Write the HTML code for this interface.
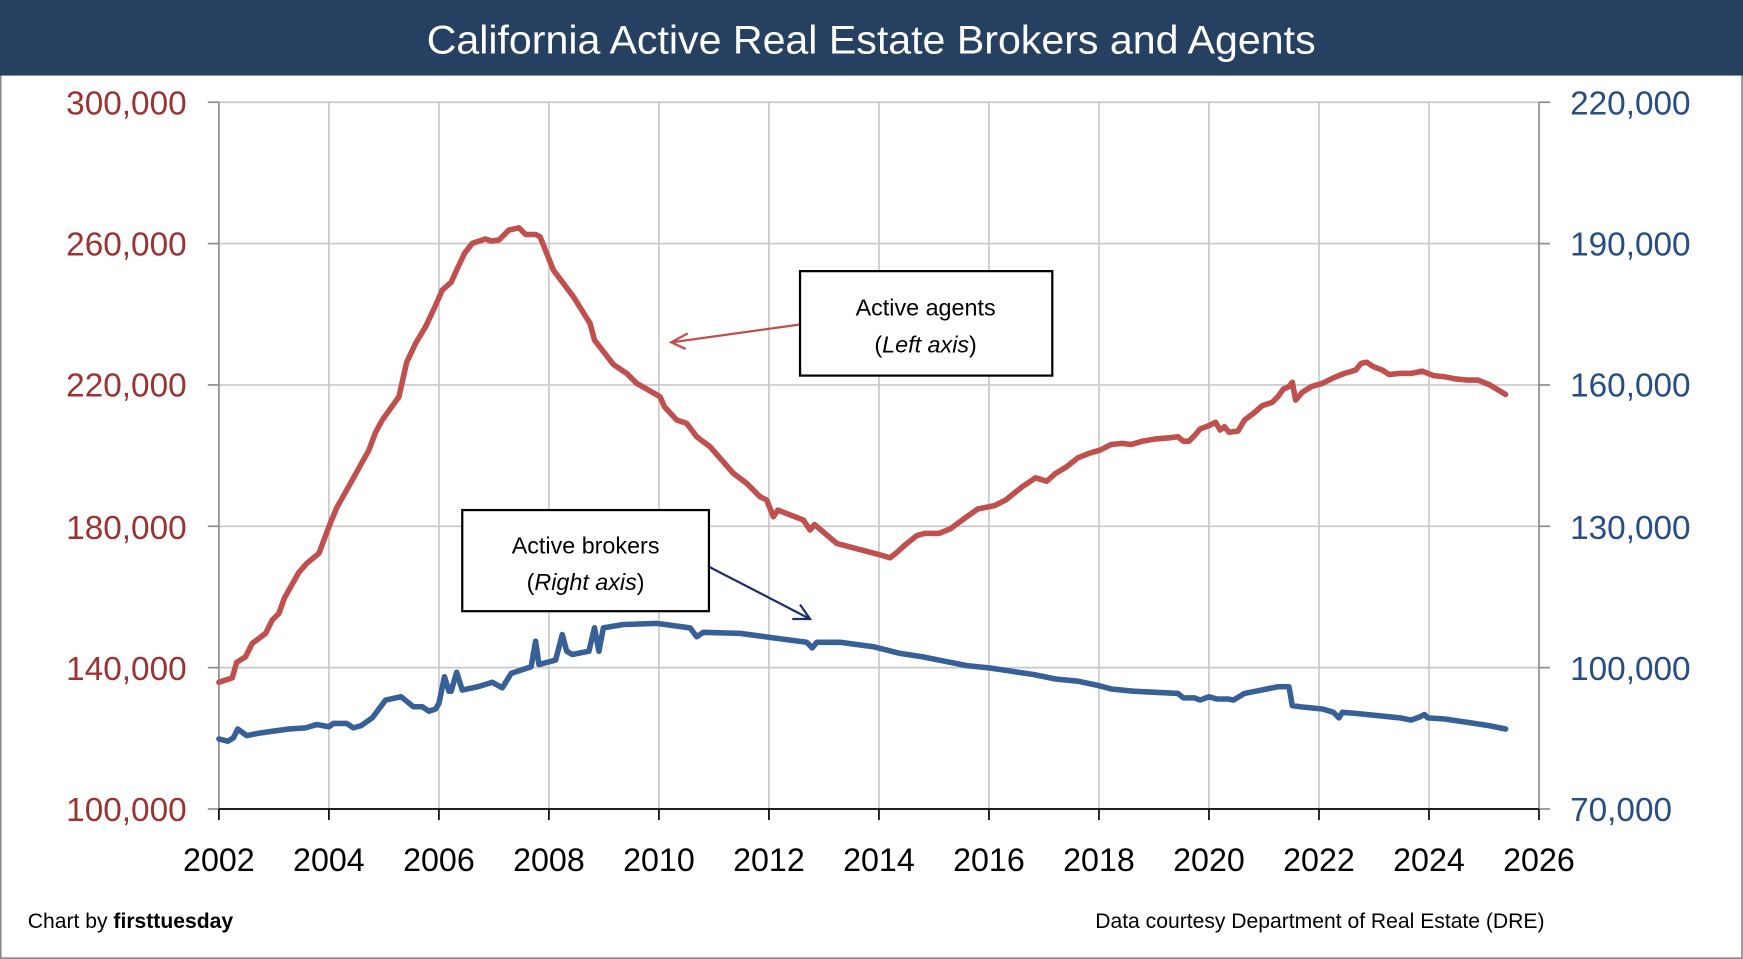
<!DOCTYPE html>
<html><head><meta charset="utf-8"><style>
html,body{margin:0;padding:0;background:#fff;}
svg{display:block;}
text{font-family:"Liberation Sans",sans-serif;}
</style></head><body>
<svg width="1743" height="959" viewBox="0 0 1568.6 863" preserveAspectRatio="none" xmlns="http://www.w3.org/2000/svg">
<rect x="0" y="0" width="1568.6" height="863" fill="#fff"/>
<rect x="0.7" y="0.7" width="1567" height="861.5" fill="none" stroke="#8a8a8a" stroke-width="1.5"/>
<rect x="0" y="0" width="1568.6" height="68" fill="#264062"/>
<text x="784" y="48" font-size="36" fill="#fff" text-anchor="middle" textLength="800" lengthAdjust="spacingAndGlyphs">California Active Real Estate Brokers and Agents</text>
<g stroke="#c8c8c8" stroke-width="1.5">
<line x1="197" y1="92" x2="1385" y2="92"/><line x1="197" y1="219.2" x2="1385" y2="219.2"/><line x1="197" y1="346.4" x2="1385" y2="346.4"/><line x1="197" y1="473.6" x2="1385" y2="473.6"/><line x1="197" y1="600.8" x2="1385" y2="600.8"/>
<line x1="296" y1="92" x2="296" y2="728"/><line x1="395" y1="92" x2="395" y2="728"/><line x1="494" y1="92" x2="494" y2="728"/><line x1="593" y1="92" x2="593" y2="728"/><line x1="692" y1="92" x2="692" y2="728"/><line x1="791" y1="92" x2="791" y2="728"/><line x1="890" y1="92" x2="890" y2="728"/><line x1="989" y1="92" x2="989" y2="728"/><line x1="1088" y1="92" x2="1088" y2="728"/><line x1="1187" y1="92" x2="1187" y2="728"/><line x1="1286" y1="92" x2="1286" y2="728"/>
</g>
<g stroke="#8c8c8c" stroke-width="1.5">
<line x1="197" y1="92" x2="197" y2="728"/><line x1="1385" y1="92" x2="1385" y2="728"/>
<line x1="187" y1="92" x2="197" y2="92"/><line x1="187" y1="219.2" x2="197" y2="219.2"/><line x1="187" y1="346.4" x2="197" y2="346.4"/><line x1="187" y1="473.6" x2="197" y2="473.6"/><line x1="187" y1="600.8" x2="197" y2="600.8"/><line x1="187" y1="728" x2="197" y2="728"/>
<line x1="1385" y1="92" x2="1395" y2="92"/><line x1="1385" y1="219.2" x2="1395" y2="219.2"/><line x1="1385" y1="346.4" x2="1395" y2="346.4"/><line x1="1385" y1="473.6" x2="1395" y2="473.6"/><line x1="1385" y1="600.8" x2="1395" y2="600.8"/><line x1="1385" y1="728" x2="1395" y2="728"/>
</g>
<g stroke="#000" stroke-width="1.5">
<line x1="197" y1="728" x2="1385" y2="728"/>
<line x1="197" y1="728" x2="197" y2="738"/><line x1="296" y1="728" x2="296" y2="738"/><line x1="395" y1="728" x2="395" y2="738"/><line x1="494" y1="728" x2="494" y2="738"/><line x1="593" y1="728" x2="593" y2="738"/><line x1="692" y1="728" x2="692" y2="738"/><line x1="791" y1="728" x2="791" y2="738"/><line x1="890" y1="728" x2="890" y2="738"/><line x1="989" y1="728" x2="989" y2="738"/><line x1="1088" y1="728" x2="1088" y2="738"/><line x1="1187" y1="728" x2="1187" y2="738"/><line x1="1286" y1="728" x2="1286" y2="738"/><line x1="1385" y1="728" x2="1385" y2="738"/>
</g>
<g font-size="30" fill="#9b3333" text-anchor="end">
<text x="168" y="103">300,000</text><text x="168" y="230">260,000</text><text x="168" y="357">220,000</text><text x="168" y="485">180,000</text><text x="168" y="612">140,000</text><text x="168" y="739">100,000</text>
</g>
<g font-size="30" fill="#264e85">
<text x="1413" y="103">220,000</text><text x="1413" y="230">190,000</text><text x="1413" y="357">160,000</text><text x="1413" y="485">130,000</text><text x="1413" y="612">100,000</text><text x="1413" y="739">70,000</text>
</g>
<g font-size="29" fill="#000" text-anchor="middle">
<text x="197" y="784">2002</text><text x="296" y="784">2004</text><text x="395" y="784">2006</text><text x="494" y="784">2008</text><text x="593" y="784">2010</text><text x="692" y="784">2012</text><text x="791" y="784">2014</text><text x="890" y="784">2016</text><text x="989" y="784">2018</text><text x="1088" y="784">2020</text><text x="1187" y="784">2022</text><text x="1286" y="784">2024</text><text x="1385" y="784">2026</text>
</g>
<text x="25" y="835" font-size="19" fill="#000">Chart by <tspan font-weight="bold">firsttuesday</tspan></text>
<text x="1390" y="835" font-size="19" fill="#000" text-anchor="end">Data courtesy Department of Real Estate (DRE)</text>

<polyline fill="none" stroke="#c0504d" stroke-width="5" stroke-linejoin="round" stroke-linecap="round" points="197,614 209,610 213,596 221,591 227,579 239,570 245,558 251,552 256,538 269,515 276,507 287,498 296,474 303,457 317,432 332,405 338,389 344,378 359,357 366,326 374,309 383,294 391,277 398,261 406,254 411,243 418,228 425,219 437,215 442,217 449,216 458,207 467,205 473,211 482,211 486,213 498,243 516,267 531,291 535,306 552,328 564,336 573,345 594,357 598,366 609,378 618,381 627,393 639,402 660,426 672,435 678,441 684,447 690,450 696,465 700,459 723,468 729,477 733,472 753,489 791,499 801,502 806,498 815,490 825,482 832,480 845,480 855,476 870,465 880,458 895,455 905,450 920,438 932,430 942,433 950,426 960,420 970,412 980,408 990,405 1000,400 1010,399 1018,400 1028,397 1040,395 1052,394 1060,393 1065,397 1070,397 1075,392 1080,386 1088,383 1094,380 1098,387 1102,384 1106,389 1114,388 1120,378 1128,372 1136,365 1145,362 1150,357 1155,350 1160,348 1163,344 1166,360 1172,353 1180,348 1190,345 1200,340 1210,336 1220,333 1225,327 1230,326 1236,330 1244,333 1250,337 1260,336 1270,336 1280,334 1290,338 1300,339 1310,341 1320,342 1330,342 1340,346 1350,352 1355,355"/>

<polyline fill="none" stroke="#386098" stroke-width="5" stroke-linejoin="round" stroke-linecap="round" points="197,665 205,667 210,664 214,656 222,662 232,660 245,658 260,656 275,655 285,652 296,654 300,651 312,651 318,655 325,653 335,646 347,630 361,627 372,636 380,636 386,640 392,638 395,633 400,609 404,622 406,622 411,605 416,621 430,618 443,614 452,619 460,606 478,600 482,577 485,598 500,594 506,571 510,586 515,589 530,586 535,565 539,586 543,565 561,562 591,561 621,565 627,573 633,569 666,570 696,574 726,578 731,583 735,578 756,578 786,582 810,588 830,591 850,595 870,599 890,601 910,604 930,607 950,611 970,613 989,617 1000,620 1020,622 1040,623 1060,624 1065,628 1075,628 1080,630 1088,627 1095,629 1105,629 1110,630 1120,624 1130,622 1140,620 1150,618 1160,618 1163,635 1170,636 1180,637 1190,638 1200,641 1205,646 1208,641 1220,642 1240,644 1260,646 1270,648 1278,645 1282,643 1285,646 1300,647 1320,650 1340,653 1355,656"/>

<line x1="720" y1="292" x2="605" y2="308" stroke="#c0504d" stroke-width="2"/>
<polyline points="619,300 604,308 617,314" fill="none" stroke="#c0504d" stroke-width="2"/>
<rect x="720" y="244" width="227" height="94" fill="#fff" stroke="#000" stroke-width="2"/>
<text x="833" y="284" font-size="21" text-anchor="middle">Active agents</text>
<text x="833" y="317" font-size="21" text-anchor="middle">(<tspan font-style="italic">Left axis</tspan>)</text>

<line x1="638" y1="510" x2="729" y2="557" stroke="#1f2f6b" stroke-width="2"/>
<polyline points="713,557 729,557 720,544" fill="none" stroke="#1f2f6b" stroke-width="2"/>
<rect x="416" y="459" width="222" height="91" fill="#fff" stroke="#000" stroke-width="2"/>
<text x="527" y="498" font-size="21" text-anchor="middle">Active brokers</text>
<text x="527" y="531" font-size="21" text-anchor="middle">(<tspan font-style="italic">Right axis</tspan>)</text>
</svg>
</body></html>
